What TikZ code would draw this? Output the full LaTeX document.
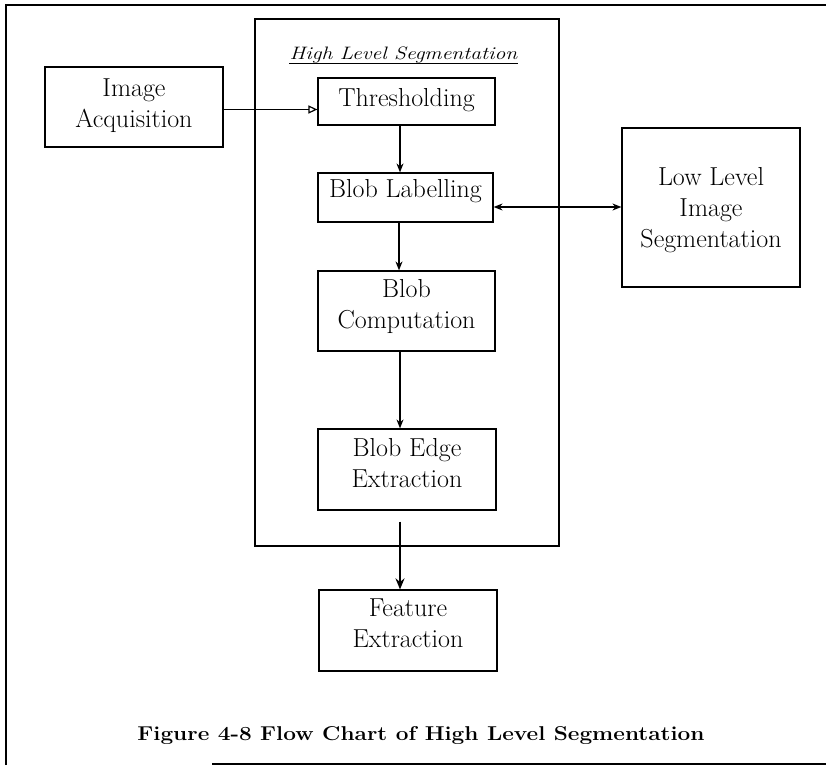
\documentclass[tikz,border=0pt]{standalone}
\usepackage{fontspec}
\usetikzlibrary{arrows.meta}
\begin{document}
\begin{tikzpicture}[x=1pt,y=-1pt,
  stagebox/.style={draw, line width=1.2pt, inner sep=0pt},
  stagetext/.style={inner sep=0pt, align=center,
    font=\fontsize{26}{31}\selectfont},
  flow/.style={line width=1.2pt, -{Stealth[length=9pt,width=7pt]}},
  frameline/.style={line width=1.4pt}]
\useasboundingbox (0,0) rectangle (826,773);

% outer page frame
\draw[frameline] (6,765) -- (6,5) -- (826,5);
\draw[frameline] (212,764) -- (826,764);

% high level segmentation group
\draw[frameline] (255,19) rectangle (559,546);
\node[inner sep=0pt, anchor=base, font=\fontsize{18}{20}\selectfont\itshape] (hlt) at (403.5,60)
  {\scalebox{1.2}[1]{High Level Segmentation}};
\draw[line width=1pt] ([yshift=-3.5pt]hlt.base west) -- ([yshift=-3.5pt]hlt.base east);

% stage boxes
\node[stagebox, minimum width=178pt, minimum height=80pt] (ia) at (134,107) {};
\node[stagebox, minimum width=177pt, minimum height=47pt] (th) at (406.5,101.5) {};
\node[stagebox, minimum width=175pt, minimum height=49pt] (bl) at (405.5,197.5) {};
\node[stagebox, minimum width=177pt, minimum height=80pt] (bc) at (406.5,311) {};
\node[stagebox, minimum width=178pt, minimum height=81pt] (be) at (407,469.5) {};
\node[stagebox, minimum width=178pt, minimum height=81pt] (fe) at (408,630.5) {};
\node[stagebox, minimum width=178pt, minimum height=159pt] (ll) at (711,207.5) {};

% stage labels
\node[stagetext] (iaT) at ([yshift=1.5pt]ia.center) {Image\\Acquisition};
\node[stagetext] (thT) at ([yshift=1pt]th.center) {Thresholding};
\node[stagetext] (blT) at ([yshift=6pt]bl.center) {Blob Labelling};
\node[stagetext] (bcT) at ([yshift=4.5pt]bc.center) {Blob\\Computation};
\node[stagetext] (beT) at ([yshift=6.5pt]be.center) {Blob Edge\\Extraction};
\node[stagetext] (feT) at ([yshift=7pt]fe.center) {Feature\\Extraction};
\node[stagetext] (llT) at ([yshift=-3pt]ll.center) {Low Level\\Image\\Segmentation};

% connectors
\draw[line width=1.2pt, -{Triangle[open,length=9pt,width=8pt]}]
  ([yshift=-2.5pt]ia.east) -- ([yshift=-2.5pt]ia.east -| th.west);
\draw[flow] ([xshift=-6.5pt]th.south) -- ([xshift=-6.5pt]th.south |- bl.north);
\draw[flow] ([xshift=-6.5pt]bl.south) -- ([xshift=-6.5pt]bl.south |- bc.north);
\draw[flow] ([xshift=-6.5pt]bc.south) -- ([xshift=-6.5pt]bc.south |- be.north);
\draw[line width=1.2pt, {Stealth[length=9pt,width=7pt]}-{Stealth[length=9pt,width=7pt]}]
  ([yshift=-9.5pt]bl.east) -- ([yshift=-9.5pt]bl.east -| ll.west);
\draw[line width=1.8pt, -{Stealth[length=11pt,width=9pt]}, shorten <=11pt]
  ([xshift=-7pt]be.south) -- ([xshift=-7pt]be.south |- fe.north);

% caption
\node[inner sep=0pt, anchor=base, font=\fontsize{20}{24}\selectfont\bfseries] (cap) at (421,740)
  {\scalebox{1.13}[1]{Figure 4-8 Flow Chart of High Level Segmentation}};
\end{tikzpicture}
\end{document}
